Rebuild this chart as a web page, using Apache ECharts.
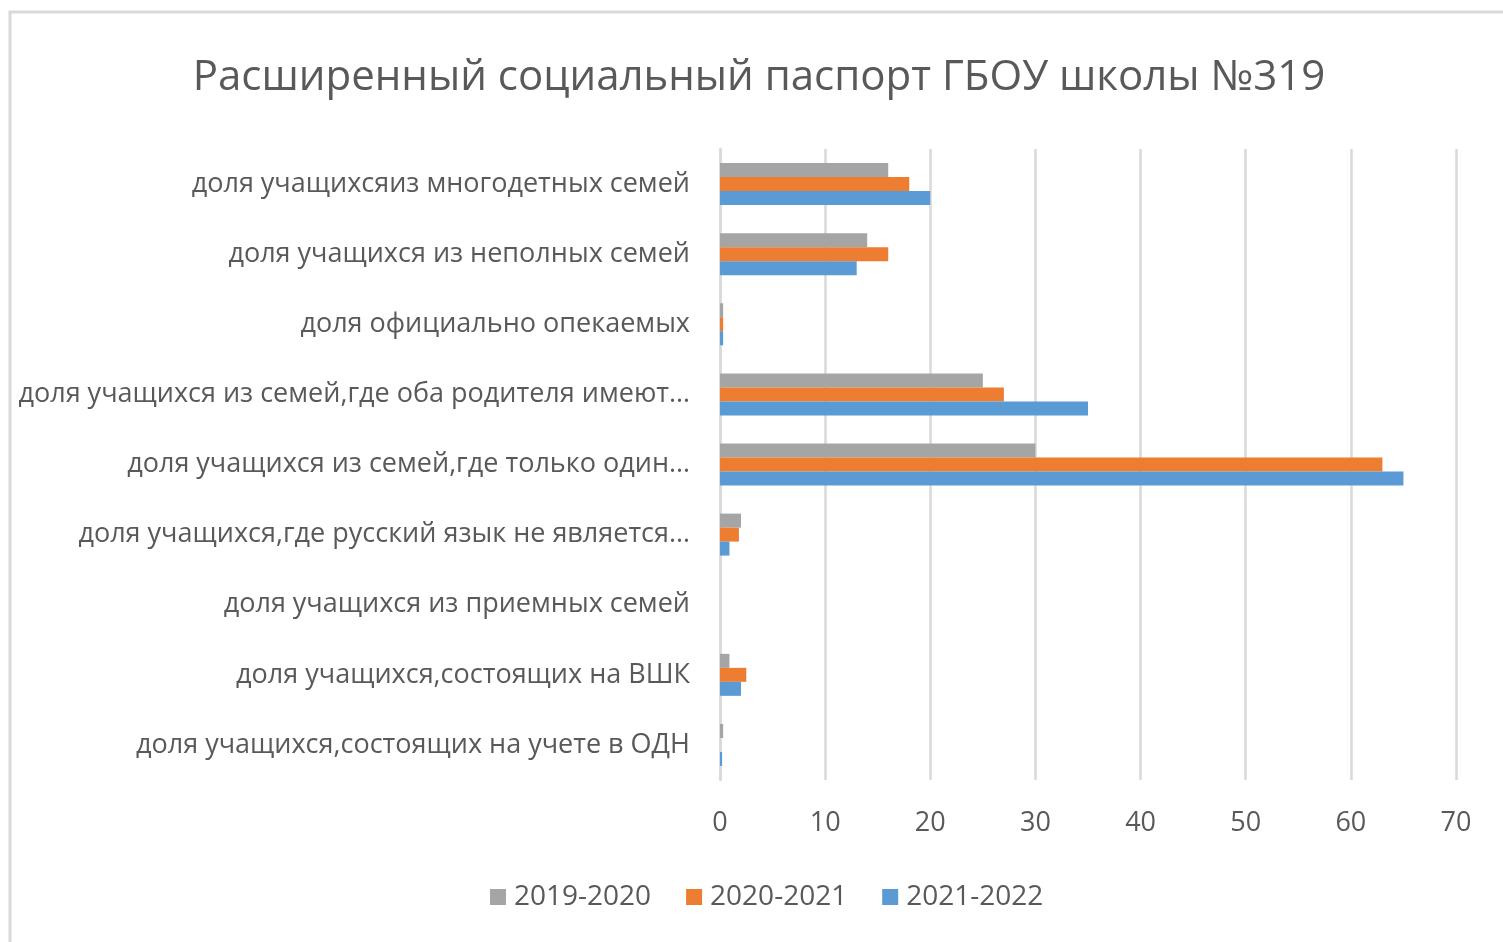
<!DOCTYPE html>
<html>
<head>
<meta charset="utf-8">
<script src="https://cdn.jsdelivr.net/npm/echarts@6/dist/echarts.min.js"></script>
<style>
  html, body { margin: 0; padding: 0; background: #fff; }
  #chart { width: 1503px; height: 942px; }
</style>
</head>
<body>
<div id="chart"></div>
<script>
// категории сверху вниз
var categories = [
  'доля учащихсяиз многодетных семей',
  'доля учащихся из неполных семей',
  'доля официально опекаемых',
  'доля учащихся из семей,где оба родителя имеют…',
  'доля учащихся из семей,где только один…',
  'доля учащихся,где русский язык не является…',
  'доля учащихся из приемных семей',
  'доля учащихся,состоящих на ВШК',
  'доля учащихся,состоящих на учете в ОДН'
]
var seriesNames = ['2019-2020', '2020-2021', '2021-2022']
var data2019 = [16, 14, 0.3, 25, 30, 2, 0, 0.9, 0.3]
var data2020 = [18, 16, 0.3, 27, 63, 1.8, 0, 2.5, 0]
var data2021 = [20, 13, 0.3, 35, 65, 0.9, 0, 2, 0.2]
var xTicks = [0, 10, 20, 30, 40, 50, 60, 70]

var colors = ['#a5a5a5', '#ed7d31', '#5b9bd5']
var fontFamily = '"Open Sans", "Noto Sans", sans-serif'

var chart = echarts.init(document.getElementById('chart'))
var allData = [data2019, data2020, data2021]
var seriesData = []
seriesNames.forEach(function(name, i) {
  seriesData.push({
    name: name,
    type: 'bar',
    barWidth: 14,
    barGap: '0%',
    data: allData[i],
    itemStyle: { color: colors[i] }
  })
})

chart.setOption({
  animation: false,
  color: colors,
  textStyle: { fontFamily: fontFamily },
  graphic: [{
    type: 'rect',
    shape: { x: 10, y: 12, width: 1600, height: 1000 },
    style: { fill: 'none', stroke: '#d9d9d9', lineWidth: 3 },
    silent: true
  }],
  title: {
    text: 'Расширенный социальный паспорт ГБОУ школы №319',
    left: 754,
    textAlign: 'center',
    top: 52,
    textStyle: {
      fontWeight: 'normal',
      fontSize: 42,
      color: '#595959',
      fontFamily: fontFamily
    }
  },
  legend: {
    data: seriesNames,
    left: 485,
    top: 878,
    icon: 'rect',
    itemWidth: 16,
    itemHeight: 16,
    itemGap: 35,
    textStyle: { fontSize: 28, color: '#595959', fontFamily: fontFamily, padding: [0, 0, 0, 3] }
  },
  grid: {
    left: 720,
    right: 47,
    top: 149,
    bottom: 162,
    containLabel: false
  },
  xAxis: {
    type: 'value',
    min: xTicks[0],
    max: xTicks[xTicks.length - 1],
    interval: 10,
    axisLine: { show: false },
    axisTick: { show: false },
    splitLine: { lineStyle: { color: '#d9d9d9', width: 2.5 } },
    axisLabel: { color: '#595959', fontSize: 27, margin: 30 }
  },
  yAxis: {
    type: 'category',
    inverse: true,
    data: categories,
    axisLine: { lineStyle: { color: '#d9d9d9', width: 2.5 } },
    axisTick: { show: false },
    axisLabel: { color: '#595959', fontSize: 27, margin: 30 }
  },
  series: seriesData
})
</script>
</body>
</html>
